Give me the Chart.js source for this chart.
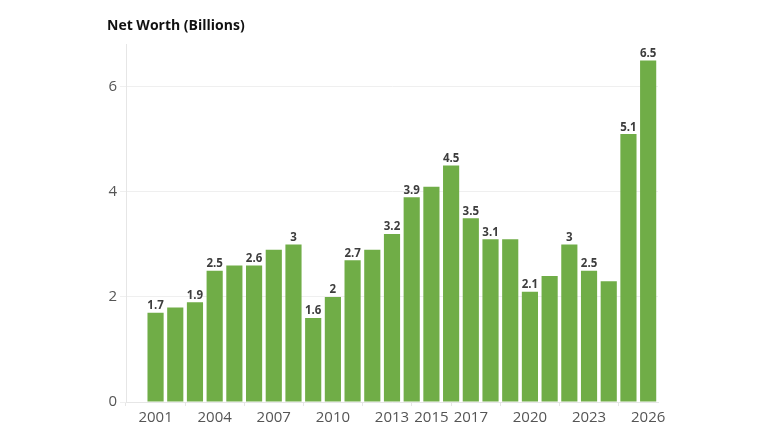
<!DOCTYPE html>
<html lang="en">
<head>
    <meta charset="UTF-8">
    <title>Net Worth (Billions)</title>
    <script src="https://cdn.jsdelivr.net/npm/chart.js"></script>
    <style>
        html, body { margin: 0; padding: 0; background: #fff; }
        .chart-box { position: relative; width: 768px; height: 437px; }
    </style>
</head>
<body>
    <div class="chart-box">
        <canvas id="worthChart"></canvas>
    </div>
    <script>
        const years = [2001, 2002, 2003, 2004, 2005, 2006, 2007, 2008, 2009, 2010, 2011, 2012, 2013,
                       2014, 2015, 2016, 2017, 2018, 2019, 2020, 2021, 2022, 2023, 2024, 2025, 2026];
        const netWorth = [1.7, 1.8, 1.9, 2.5, 2.6, 2.6, 2.9, 3, 1.6, 2, 2.7, 2.9, 3.2,
                          3.9, 4.1, 4.5, 3.5, 3.1, 3.1, 2.1, 2.4, 3, 2.5, 2.3, 5.1, 6.5];
        // only these bars carry a value label in the original
        const labeledYears = [2001, 2003, 2004, 2006, 2008, 2009, 2010, 2011, 2013, 2014, 2016,
                              2017, 2018, 2020, 2022, 2023, 2025, 2026];
        const xTickYears = [2001, 2004, 2007, 2010, 2013, 2015, 2017, 2020, 2023, 2026];
        const yTicks = [0, 2, 4, 6];

        const valueLabels = {
            id: 'valueLabels',
            afterDatasetsDraw(chart) {
                const ctx = chart.ctx;
                const meta = chart.getDatasetMeta(0);
                ctx.save();
                ctx.font = 'bold 11.5px "Open Sans", sans-serif';
                ctx.fillStyle = '#3d3d3d';
                ctx.textAlign = 'center';
                ctx.textBaseline = 'bottom';
                meta.data.forEach((bar, i) => {
                    if (!labeledYears.includes(years[i])) return;
                    ctx.fillText(String(netWorth[i]), bar.x, bar.y - 1);
                });
                ctx.restore();
            }
        };

        const ctx = document.getElementById('worthChart').getContext('2d');
        new Chart(ctx, {
            type: 'bar',
            data: {
                datasets: [{
                    label: 'Net Worth',
                    data: years.map((yr, i) => ({ x: yr, y: netWorth[i] })),
                    backgroundColor: '#70ad47',
                    borderWidth: 0,
                    barPercentage: 0.82,
                    categoryPercentage: 1
                }]
            },
            options: {
                responsive: true,
                maintainAspectRatio: false,
                animation: false,
                layout: { padding: { left: 107, right: 110, top: 0, bottom: 0 } },
                plugins: {
                    legend: { display: false },
                    tooltip: { enabled: false },
                    title: {
                        display: true,
                        text: 'Net Worth (Billions)',
                        align: 'start',
                        color: '#111',
                        font: { family: '"Open Sans", sans-serif', size: 14, weight: 'bold' },
                        padding: { top: 18, bottom: 10 }
                    }
                },
                scales: {
                    x: {
                        type: 'linear',
                        min: 1999.5,
                        max: 2026.5,
                        offset: false,
                        afterBuildTicks(scale) {
                            scale.ticks = xTickYears.map(v => ({ value: v }));
                        },
                        afterFit(scale) { scale.height = 35; },
                        ticks: {
                            color: '#555',
                            font: { family: '"Open Sans", sans-serif', size: 15 },
                            padding: 3,
                            maxRotation: 0,
                            autoSkip: false,
                            callback: v => String(v)
                        },
                        grid: { drawOnChartArea: false, color: '#e6e6e6', tickLength: 4 },
                        border: { color: '#e6e6e6' }
                    },
                    y: {
                        min: 0,
                        max: 6.8,
                        afterBuildTicks(scale) {
                            scale.ticks = yTicks.map(v => ({ value: v }));
                        },
                        afterFit(scale) { scale.width = 19; },
                        ticks: {
                            color: '#555',
                            font: { family: '"Open Sans", sans-serif', size: 15 },
                            padding: 3
                        },
                        grid: { color: '#efefef', tickLength: 6 },
                        border: { color: '#e6e6e6' }
                    }
                }
            },
            plugins: [valueLabels]
        });
    </script>
</body>
</html>
